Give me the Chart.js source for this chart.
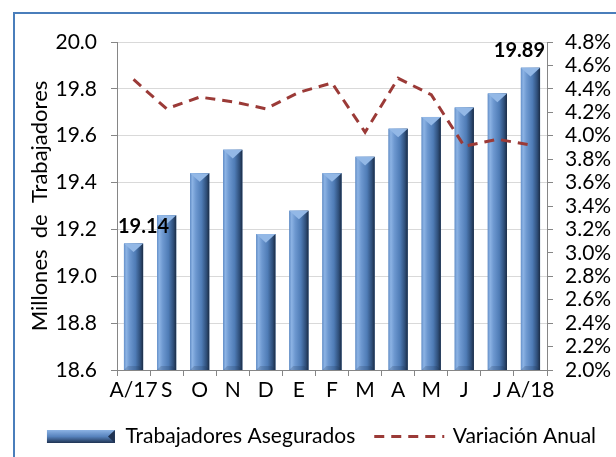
<!DOCTYPE html>
<html>
<head>
<meta charset="utf-8">
<script src="https://cdn.jsdelivr.net/npm/chart.js@4.4.0/dist/chart.umd.min.js"></script>
<style>
  html, body { margin: 0; padding: 0; background: #ffffff; }
  #wrap { width: 616px; height: 457px; position: relative; }
</style>
</head>
<body>
<div id="wrap"><canvas id="trabajadores"></canvas></div>
<script>
// months Aug-2017 .. Aug-2018
const meses = ['A/17', 'S', 'O', 'N', 'D', 'E', 'F', 'M', 'A', 'M', 'J', 'J', 'A/18']
// millions of insured workers
const asegurados = [19.14, 19.26, 19.44, 19.54, 19.18, 19.28, 19.44, 19.51, 19.63, 19.68, 19.72, 19.78, 19.89]
// yearly change, percent
const variacion = [4.48, 4.23, 4.33, 4.29, 4.23, 4.37, 4.45, 4.03, 4.49, 4.35, 3.91, 3.97, 3.92]
// which bars get a value label
const etiquetados = [0, 12]

Chart.defaults.font.family = 'Lato'
Chart.defaults.color = '#000000'

const rojo = '#9b3a37'

// frame line of the original chart box
const marco = {
  id: 'marco',
  beforeDraw(chart) {
    const ctx = chart.ctx
    ctx.save()
    ctx.strokeStyle = '#4a7ebb'
    ctx.lineWidth = 2
    ctx.strokeRect(14, 13, 800, 800)
    ctx.restore()
  }
}

// shaded 3d look of the bars
const bisel = {
  id: 'bisel',
  afterDatasetDraw(chart, args) {
    if (args.meta.type !== 'bar') return
    const ctx = chart.ctx
    const area = chart.chartArea
    ctx.save()
    args.meta.data.forEach(bar => {
      const w = bar.width
      const l = bar.x - w / 2
      const r = bar.x + w / 2
      const t = bar.y
      const b = Math.min(bar.base, area.bottom)
      const g = ctx.createLinearGradient(l, 0, r, 0)
      g.addColorStop(0, '#6590c9')
      g.addColorStop(0.12, '#8cb3e4')
      g.addColorStop(0.3, '#6d98d0')
      g.addColorStop(0.6, '#4f7cb6')
      g.addColorStop(0.85, '#2f4f7a')
      g.addColorStop(1, '#1b2c45')
      ctx.fillStyle = g
      ctx.fillRect(l, t, w, b - t)
      const th = Math.min(9, w * 0.45)
      ctx.beginPath()
      ctx.moveTo(l, t)
      ctx.lineTo(r, t)
      ctx.lineTo(bar.x, t + th)
      ctx.closePath()
      ctx.fillStyle = '#93b8e6'
      ctx.fill()
      // bottom edge
      ctx.beginPath()
      ctx.moveTo(l, b)
      ctx.lineTo(r, b)
      ctx.lineTo(r - 4, b - 4)
      ctx.lineTo(l + 4, b - 4)
      ctx.closePath()
      ctx.fillStyle = 'rgba(30,50,80,0.2)'
      ctx.fill()
    })
    ctx.restore()
  }
}

// value labels for first and last bar, kept inside the plot
const etiquetas = {
  id: 'etiquetas',
  afterDatasetsDraw(chart) {
    const ctx = chart.ctx
    const meta = chart.getDatasetMeta(0)
    const area = chart.chartArea
    ctx.save()
    ctx.font = 'bold 20px Lato'
    ctx.fillStyle = '#000000'
    ctx.textBaseline = 'middle'
    etiquetados.forEach(i => {
      const bar = meta.data[i]
      const txt = asegurados[i].toFixed(2)
      const tw = ctx.measureText(txt).width
      let x = bar.x - tw / 2
      if (x < area.left + 1) x = area.left + 1
      if (x + tw > area.right - 2) x = area.right - 2 - tw
      ctx.textAlign = 'left'
      ctx.fillText(txt, x, bar.y - 17)
    })
    ctx.restore()
  }
}

// legend symbols drawn over the legend boxes
const simbolos = {
  id: 'simbolos',
  afterDraw(chart) {
    const ctx = chart.ctx
    const boxes = chart.legend.legendHitBoxes
    if (!boxes || boxes.length < 2) return
    ctx.save()
    let b = boxes[0]
    const bw = 68, bh = 13
    let y = b.top + (b.height - bh) / 2
    const g = ctx.createLinearGradient(0, y, 0, y + bh)
    g.addColorStop(0, '#8cb3e4')
    g.addColorStop(0.5, '#5783bd')
    g.addColorStop(1, '#1f3352')
    ctx.fillStyle = g
    ctx.fillRect(b.left, y, bw, bh)
    ctx.beginPath()
    ctx.moveTo(b.left + bw, y)
    ctx.lineTo(b.left + bw, y + bh)
    ctx.lineTo(b.left + bw - 7, y + bh / 2)
    ctx.closePath()
    ctx.fillStyle = '#1f3352'
    ctx.fill()
    b = boxes[1]
    y = b.top + b.height / 2
    ctx.strokeStyle = rojo
    ctx.lineWidth = 3
    ctx.setLineDash([10, 7])
    ctx.beginPath()
    ctx.moveTo(b.left, y)
    ctx.lineTo(b.left + 70, y)
    ctx.stroke()
    ctx.restore()
  }
}

new Chart(document.getElementById('trabajadores'), {
  data: {
    labels: meses,
    datasets: [
      {
        type: 'bar',
        label: 'Trabajadores Asegurados',
        data: asegurados,
        backgroundColor: '#4f81bd',
        barPercentage: 0.58,
        categoryPercentage: 1,
        yAxisID: 'y',
        order: 2
      },
      {
        type: 'line',
        label: 'Variación Anual',
        data: variacion,
        borderColor: rojo,
        borderWidth: 3,
        borderDash: [10, 7],
        pointRadius: 0,
        tension: 0,
        yAxisID: 'y1',
        order: 1
      }
    ]
  },
  options: {
    responsive: true,
    maintainAspectRatio: false,
    animation: false,
    layout: {
      padding: { left: 27, top: 42, right: 0, bottom: 0 }
    },
    plugins: {
      tooltip: { enabled: false },
      legend: {
        position: 'bottom',
        labels: {
          font: { size: 21 },
          color: '#000000',
          boxWidth: 68,
          boxHeight: 13,
          padding: 19,
          generateLabels(chart) {
            return chart.data.datasets.map((ds, i) => ({
              text: ds.label,
              fillStyle: 'rgba(0,0,0,0)',
              strokeStyle: 'rgba(0,0,0,0)',
              lineWidth: 0,
              hidden: false,
              datasetIndex: i
            }))
          }
        }
      }
    },
    scales: {
      x: {
        grid: {
          drawOnChartArea: false,
          color: '#868686',
          tickLength: 6,
          offset: true
        },
        border: { color: '#868686', width: 1 },
        ticks: { font: { size: 21 }, padding: 2, maxRotation: 0, autoSkip: false },
        afterFit(scale) { scale.height = 37 }
      },
      y: {
        position: 'left',
        min: 18.6,
        max: 20.0,
        ticks: {
          stepSize: 0.2,
          font: { size: 21 },
          padding: 14,
          autoSkip: false,
          callback: v => v.toFixed(1)
        },
        grid: {
          color: '#d9d9d9',
          lineWidth: 1,
          tickLength: 6,
          tickColor: '#868686'
        },
        border: { color: '#868686', width: 1 },
        title: {
          display: true,
          text: 'Millones  de  Trabajadores',
          font: { size: 22 },
          padding: 0
        },
        afterFit(scale) { scale.width = 90 }
      },
      y1: {
        position: 'right',
        min: 2.0,
        max: 4.8,
        ticks: {
          stepSize: 0.2,
          font: { size: 21 },
          padding: 12,
          autoSkip: false,
          callback: v => v.toFixed(1) + '%'
        },
        grid: {
          drawOnChartArea: false,
          color: '#868686',
          tickLength: 6
        },
        border: { color: '#868686', width: 1 },
        afterFit(scale) { scale.width = 69 }
      }
    }
  },
  plugins: [marco, bisel, etiquetas, simbolos]
})
</script>
</body>
</html>
